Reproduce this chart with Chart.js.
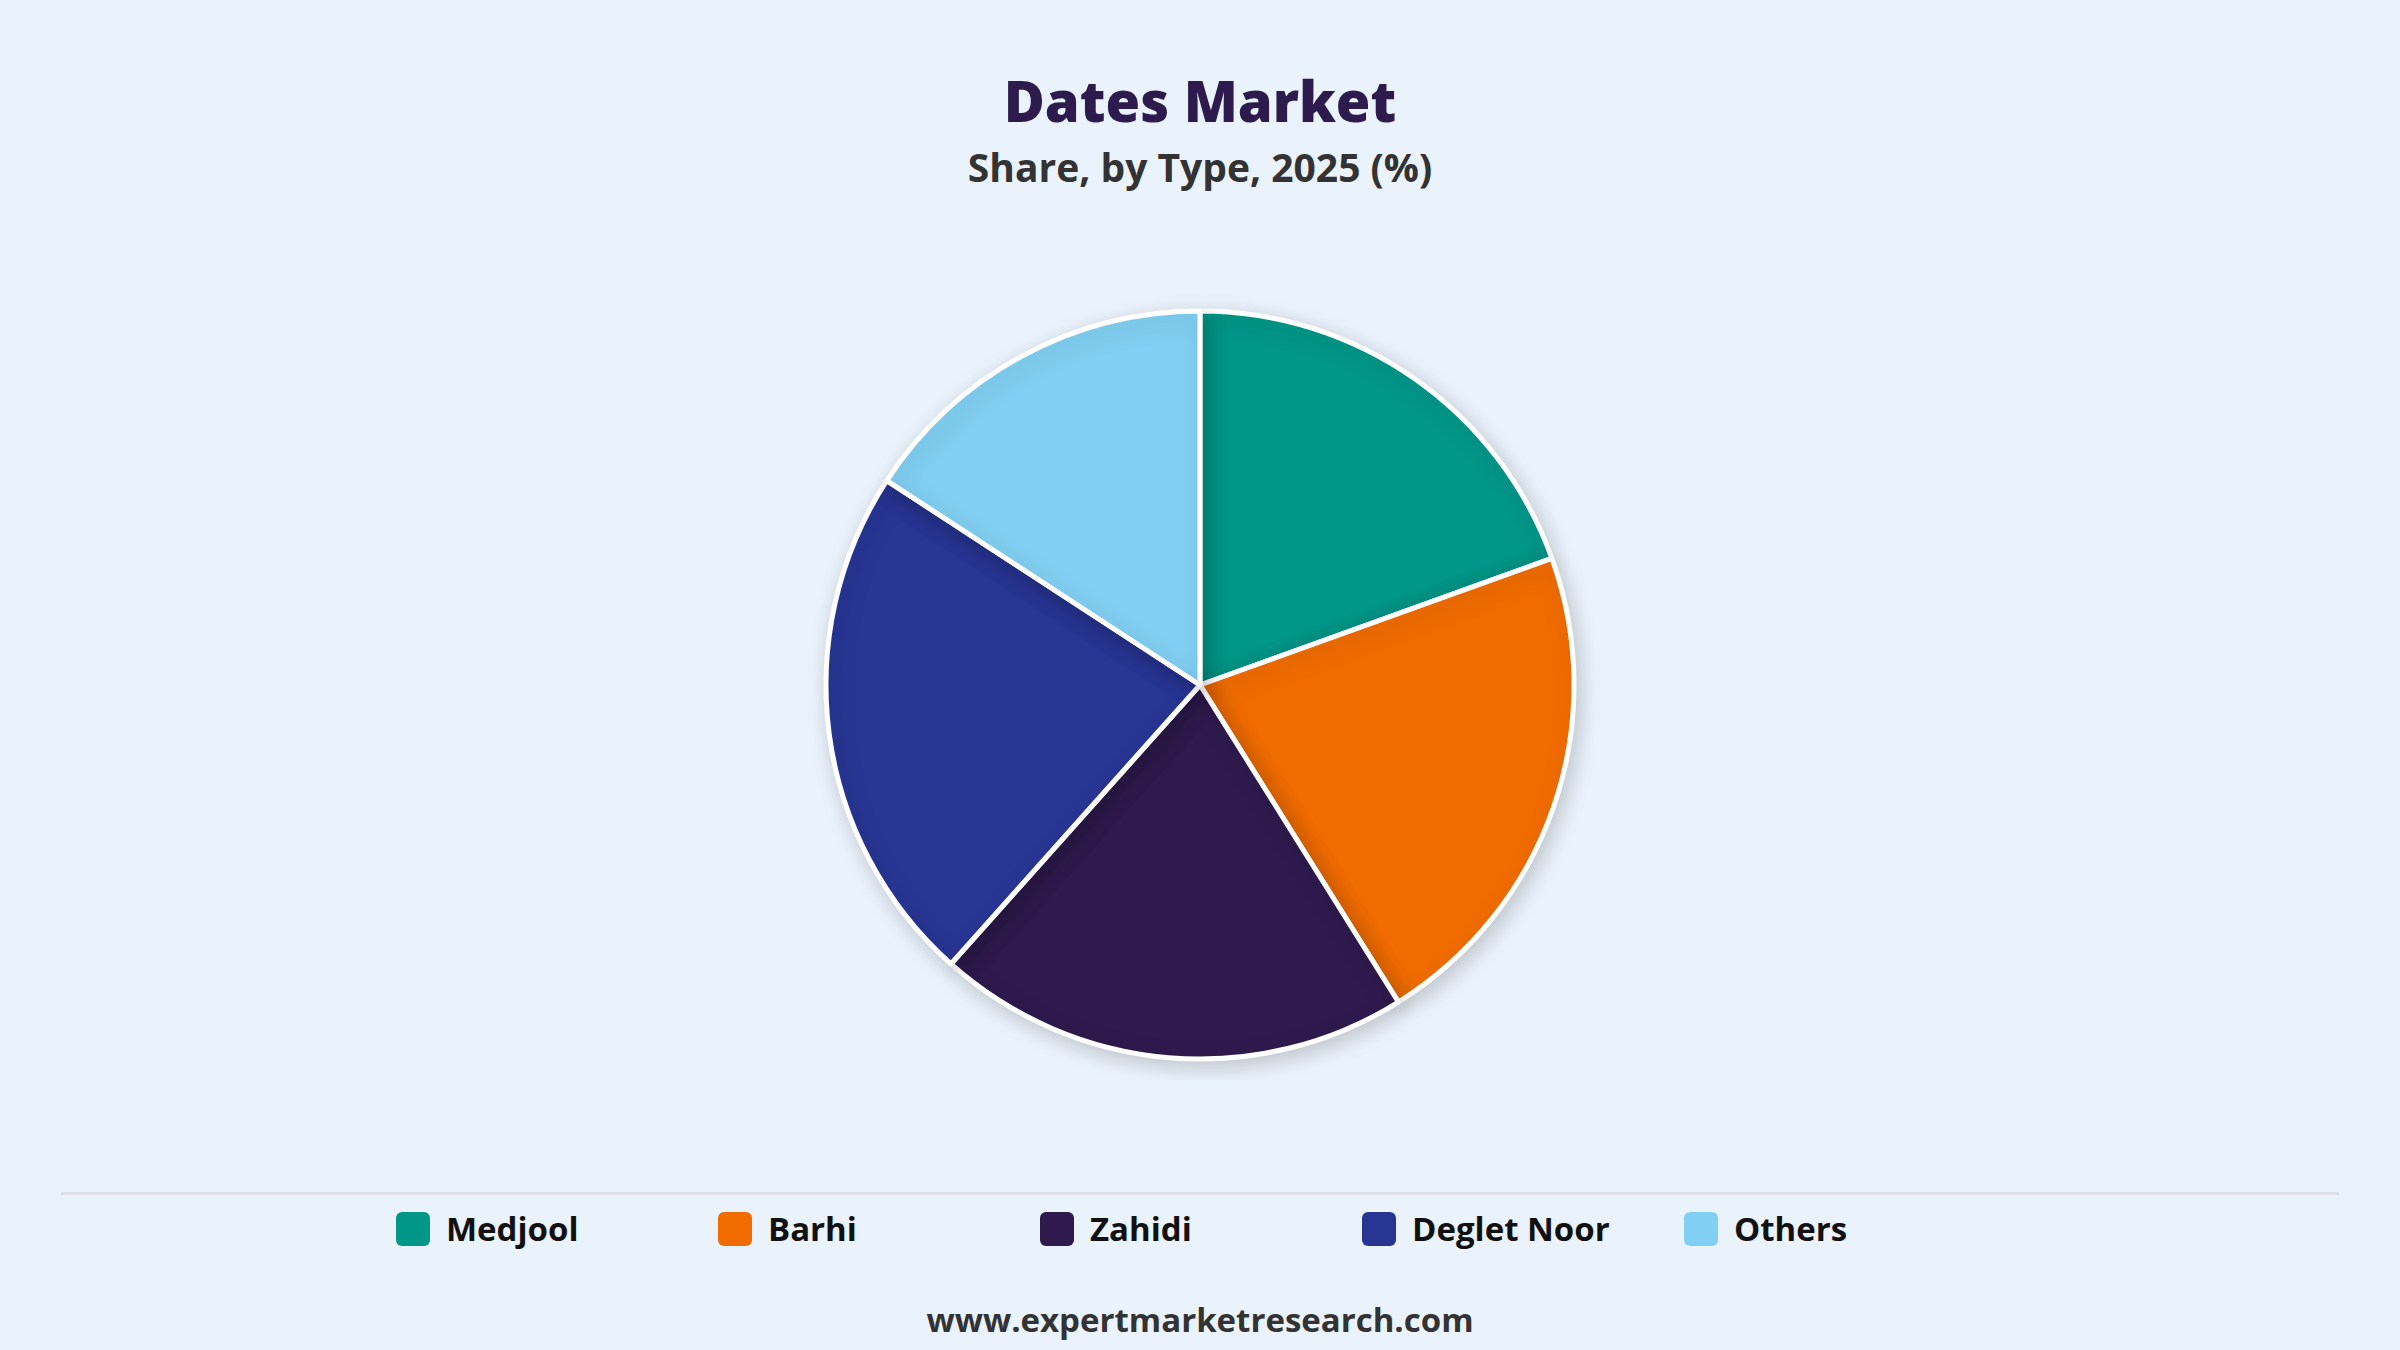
<!DOCTYPE html>
<html><head><meta charset="utf-8">
<script src="https://cdn.jsdelivr.net/npm/chart.js@4"></script>
<style>
html,body{margin:0;padding:0;width:2400px;height:1350px;background:#eaf2fb;font-family:"Open Sans","Noto Sans",sans-serif;overflow:hidden;position:relative}
#title{position:absolute;top:62px;width:100%;text-align:center;font-size:56px;font-weight:800;color:#2d1b4e}
#sub{position:absolute;top:140px;width:100%;text-align:center;font-size:39px;font-weight:700;color:#333}
#wrap{position:absolute;left:0;top:290px;width:2400px;height:790px}
#rule{position:absolute;left:61px;width:2278px;top:1192px;height:3px;background:#dde1e6}
#legend{position:absolute;top:1206px;left:0;width:2400px;height:50px}
.li{position:absolute;display:flex;align-items:center;font-size:33px;font-weight:700;color:#111}
.sw{width:34px;height:34px;border-radius:6px;margin-right:16px}
#foot{position:absolute;top:1297px;width:100%;text-align:center;font-size:33px;font-weight:700;color:#333}
</style></head><body>
<div id="title">Dates Market</div>
<div id="sub">Share, by Type, 2025 (%)</div>
<div id="wrap"><canvas id="c"></canvas></div>
<div id="rule"></div>
<div id="legend"></div>
<div id="foot">www.expertmarketresearch.com</div>
<script>
const categories=["Medjool","Barhi","Zahidi","Deglet Noor","Others"];
const shares=[19.5,21.6,20.5,22.6,15.8];
const colors=["#009688","#f06c00","#2e1a4d","#283593","#81cff2"];
const legendX=[396,718,1040,1362,1684];
const lg=document.getElementById('legend');
categories.forEach((c,i)=>{const d=document.createElement('div');d.className='li';d.style.left=legendX[i]+'px';d.innerHTML='<div class="sw" style="background:'+colors[i]+'"></div>'+c;lg.appendChild(d);});
const shadow={id:'shadow',beforeDatasetsDraw(ch){const x=ch.ctx;x.save();x.shadowColor='rgba(0,0,0,0.18)';x.shadowBlur=22;x.shadowOffsetX=4;x.shadowOffsetY=6;},afterDatasetsDraw(ch){ch.ctx.restore();}};
new Chart(document.getElementById('c'),{type:'pie',data:{labels:categories,datasets:[{data:shares,backgroundColor:colors,borderColor:'#ffffff',borderWidth:5}]},
options:{responsive:true,maintainAspectRatio:false,animation:false,radius:374,layout:{padding:0},plugins:{legend:{display:false},tooltip:{enabled:false}}},plugins:[shadow]});
</script></body></html>
